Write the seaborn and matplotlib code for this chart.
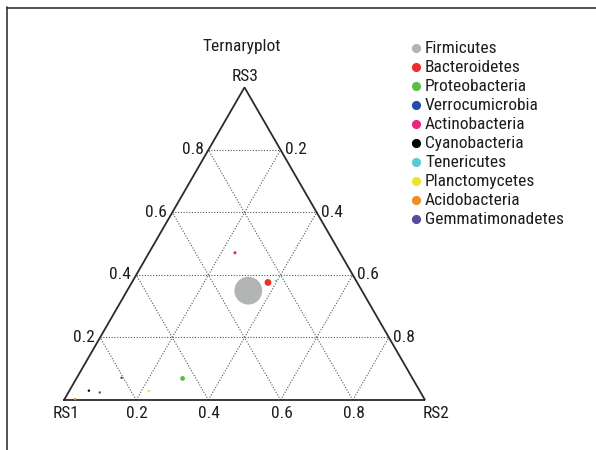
import numpy as np
import pandas as pd
import matplotlib
matplotlib.use("Agg")
import matplotlib.pyplot as plt
from matplotlib import font_manager
import seaborn as sns

# --- data ---
phyla = ["Firmicutes", "Bacteroidetes", "Proteobacteria", "Verrocumicrobia",
         "Actinobacteria", "Cyanobacteria", "Tenericutes", "Planctomycetes",
         "Acidobacteria", "Gemmatimonadetes"]
rs1 = [0.315, 0.247, 0.637, 0.805, 0.291, 0.917, 0.222, 0.751, 0.968, 0.889]
rs2 = [0.336, 0.377, 0.294, 0.124, 0.238, 0.054, 0.397, 0.220, 0.029, 0.087]
rs3 = [0.350, 0.376, 0.069, 0.071, 0.471, 0.030, 0.381, 0.029, 0.003, 0.024]
tick_vals = [0.2, 0.4, 0.6, 0.8]

colors = ["#b3b5b4", "#ee2e2e", "#5cbd46", "#1f4fa6", "#e8267d",
          "#000000", "#5bc8d6", "#e9e62c", "#f28d24", "#5a4a9e"]
point_area = [400, 24, 12, 3, 5, 3, 3, 3, 3, 3]

sns.set_style("white")

# narrowest installed family available
installed = {f.name for f in font_manager.fontManager.ttflist}
family = "DejaVu Sans"
for cand in ["Liberation Sans Narrow", "DejaVu Sans Condensed", "Roboto Condensed",
             "Open Sans Condensed", "Roboto", "Liberation Sans", "Lato"]:
    if cand in installed:
        family = cand
        break
plt.rcParams['font.family'] = [family, 'DejaVu Sans']
txt = "#1e1c1d"

H = np.sqrt(3) / 2
df = pd.DataFrame({"phylum": phyla, "RS1": rs1, "RS2": rs2, "RS3": rs3})
tot = df[["RS1", "RS2", "RS3"]].sum(axis=1)
df["x"] = (df["RS2"] + df["RS3"] / 2) / tot
df["y"] = df["RS3"] * H / tot

fig = plt.figure(figsize=(5.96, 4.5), dpi=100)
ax = fig.add_axes([0, 0, 1, 1])
S = 361.0  # pixels per unit side
ox, oy = 64.0, 400.0  # pixel position of RS1 corner
ax.set_xlim(-ox / S, (596 - ox) / S)
ax.set_ylim(-(450 - oy) / S, oy / S)
ax.axis("off")

# pick font size so the longest legend label is ~138 px wide
renderer = fig.canvas.get_renderer()
probe = fig.text(0, 0, "Gemmatimonadetes", fontsize=12)
w = probe.get_window_extent(renderer).width
probe.remove()
FS = min(13.5, 12 * 138 / w)

# grid
for k in tick_vals:
    ax.plot([k / 2, 1 - k / 2], [k * H, k * H], ls=(0, (1, 1.5)), color="#555", lw=0.8)
    ax.plot([k, k + (1 - k) / 2], [0, (1 - k) * H], ls=(0, (1, 1.5)), color="#555", lw=0.8)
    ax.plot([1 - k, (1 - k) / 2], [0, (1 - k) * H], ls=(0, (1, 1.5)), color="#555", lw=0.8)

# triangle
ax.plot([0, 1, 0.5, 0], [0, 0, H, 0], color="#2b2b2b", lw=1.3, solid_joinstyle="miter")

# points
sns.scatterplot(data=df, x="x", y="y", hue="phylum", palette=dict(zip(phyla, colors)),
                size="phylum", sizes=dict(zip(phyla, point_area)),
                linewidth=0, legend=False, ax=ax, zorder=5)

# tick labels
pt = 72 / 100
for k in tick_vals:
    ax.annotate(f"{k:.1f}", (k / 2, k * H), xytext=(-5 * pt, 0), textcoords="offset points",
                ha="right", va="center", fontsize=FS, color=txt)
    ax.annotate(f"{1 - k:.1f}", (1 - k / 2, k * H), xytext=(4 * pt, 0), textcoords="offset points",
                ha="left", va="center", fontsize=FS, color=txt)
    ax.annotate(f"{k:.1f}", (k, 0), xytext=(1 * pt, -13 * pt), textcoords="offset points",
                ha="center", va="center", fontsize=FS, color=txt)

ax.annotate("RS1", (0, 0), xytext=(2 * pt, -13 * pt), textcoords="offset points",
            ha="center", va="center", fontsize=FS, color=txt)
ax.annotate("RS2", (1, 0), xytext=(11 * pt, -13 * pt), textcoords="offset points",
            ha="center", va="center", fontsize=FS, color=txt)
ax.annotate("RS3", (0.5, H), xytext=(0.5 * pt, 11 * pt), textcoords="offset points",
            ha="center", va="center", fontsize=FS, color=txt)
ax.annotate("Ternaryplot", (0.5, H), xytext=(-2.5 * pt, 41 * pt), textcoords="offset points",
            ha="center", va="center", fontsize=FS, color=txt)

# legend
def fpx(x, y):
    return x / 596, 1 - y / 450

for i, (name, c) in enumerate(zip(phyla, colors)):
    yy = 48.3 + i * 19.0
    mx, my = fpx(415.7, yy)
    ax.plot([mx], [my], "o", ms=6.6, color=c, mec="none", transform=fig.transFigure)
    tx, ty = fpx(425, yy)
    ax.text(tx, ty, name, fontsize=FS, color=txt, ha="left", va="center",
            transform=fig.transFigure)

# outer frame (cropped box)
fig.add_artist(plt.Line2D([7 / 596, 1], [1 - 7.5 / 450] * 2, color="#333", lw=1.2,
                          transform=fig.transFigure))
fig.add_artist(plt.Line2D([7.5 / 596] * 2, [0, 1 - 7 / 450], color="#333", lw=1.2,
                          transform=fig.transFigure))

fig.savefig("out.png", dpi=100)
